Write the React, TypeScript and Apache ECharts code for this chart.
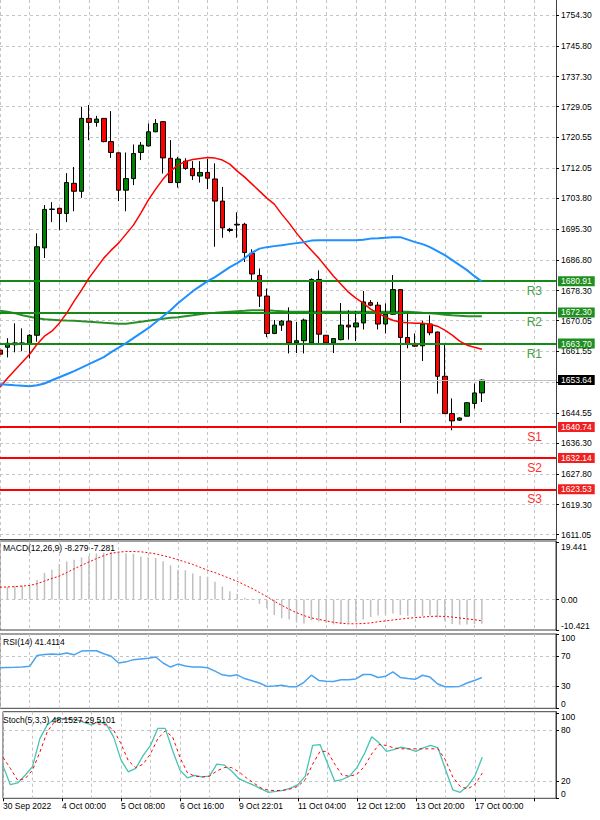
import React, { useEffect, useRef } from "react";
import * as echarts from "echarts";

const FONT = "'Liberation Sans', Arial, sans-serif";

const xTickLabels = [
  "30 Sep 2022", "4 Oct 00:00", "5 Oct 08:00", "6 Oct 16:00", "9 Oct 22:01",
  "11 Oct 04:00", "12 Oct 12:00", "13 Oct 20:00", "17 Oct 00:00",
];
const SLOT_COUNT = 76;

const priceTickValues = [
  1611.05, 1619.3, 1627.8, 1636.3, 1644.55, 1653.05, 1661.55, 1670.05, 1678.3,
  1686.8, 1695.3, 1703.8, 1712.05, 1720.55, 1729.05, 1737.3, 1745.8, 1754.3,
];
const priceLabelValues = [
  1611.05, 1619.3, 1627.8, 1636.3, 1644.55, 1661.55, 1670.05, 1678.3,
  1686.8, 1695.3, 1703.8, 1712.05, 1720.55, 1729.05, 1737.3, 1745.8, 1754.3,
];

// [open, close, low, high]
const candles = [
  [1661.9, 1660.8, 1659.9, 1662.7],
  [1662.7, 1663.8, 1659.9, 1665.2],
  [1663.4, 1663.9, 1661.3, 1669.3],
  [1663.9, 1663.6, 1661.6, 1667.9],
  [1663.7, 1666.0, 1659.6, 1666.3],
  [1666.0, 1690.4, 1664.2, 1694.1],
  [1690.1, 1700.7, 1687.3, 1701.9],
  [1700.7, 1700.8, 1697.2, 1702.7],
  [1701.0, 1699.6, 1695.0, 1701.2],
  [1699.6, 1708.1, 1697.2, 1710.7],
  [1707.9, 1705.7, 1700.2, 1712.4],
  [1705.7, 1725.8, 1703.9, 1729.0],
  [1725.8, 1724.7, 1719.8, 1729.5],
  [1724.7, 1725.6, 1723.5, 1726.5],
  [1725.8, 1719.4, 1719.2, 1725.9],
  [1719.4, 1716.4, 1714.9, 1727.8],
  [1716.3, 1706.0, 1703.0, 1716.4],
  [1706.0, 1709.2, 1700.2, 1716.4],
  [1709.2, 1716.1, 1707.4, 1718.6],
  [1716.4, 1718.4, 1714.3, 1719.3],
  [1718.2, 1722.1, 1718.1, 1724.4],
  [1722.1, 1724.4, 1722.0, 1725.6],
  [1724.9, 1714.9, 1710.6, 1725.0],
  [1714.8, 1708.1, 1708.0, 1719.8],
  [1708.1, 1714.6, 1706.7, 1715.2],
  [1714.0, 1712.0, 1711.6, 1714.8],
  [1712.0, 1710.0, 1708.8, 1714.0],
  [1709.9, 1710.9, 1708.1, 1714.0],
  [1710.9, 1709.3, 1706.3, 1714.6],
  [1709.1, 1703.0, 1690.4, 1713.4],
  [1703.0, 1695.6, 1692.9, 1706.9],
  [1695.2, 1694.9, 1694.4, 1695.6],
  [1696.4, 1696.6, 1692.9, 1699.9],
  [1696.6, 1688.8, 1686.2, 1697.0],
  [1688.6, 1682.9, 1681.2, 1689.7],
  [1682.5, 1676.8, 1673.8, 1684.4],
  [1676.8, 1666.5, 1665.5, 1678.9],
  [1666.5, 1668.8, 1666.3, 1670.2],
  [1668.8, 1669.9, 1667.2, 1670.2],
  [1669.9, 1663.9, 1661.0, 1673.7],
  [1663.9, 1664.5, 1661.1, 1669.7],
  [1664.5, 1670.2, 1661.0, 1670.6],
  [1663.9, 1681.4, 1663.3, 1681.7],
  [1681.4, 1666.3, 1663.5, 1683.9],
  [1666.0, 1663.9, 1663.8, 1666.1],
  [1663.9, 1665.1, 1661.1, 1665.2],
  [1664.8, 1668.8, 1664.6, 1674.9],
  [1668.8, 1668.3, 1664.8, 1672.9],
  [1668.3, 1669.4, 1664.4, 1672.7],
  [1669.4, 1675.2, 1667.6, 1678.2],
  [1675.0, 1674.3, 1674.0, 1675.7],
  [1674.3, 1669.1, 1667.6, 1675.2],
  [1669.1, 1671.8, 1666.5, 1674.8],
  [1671.8, 1678.6, 1671.7, 1682.6],
  [1678.6, 1665.4, 1641.8, 1678.7],
  [1665.4, 1663.7, 1662.4, 1672.0],
  [1663.7, 1663.0, 1662.8, 1666.5],
  [1663.1, 1669.1, 1658.9, 1670.0],
  [1669.1, 1666.7, 1666.0, 1671.5],
  [1666.9, 1654.7, 1649.9, 1667.0],
  [1654.7, 1644.4, 1644.3, 1663.7],
  [1644.4, 1642.4, 1639.8, 1648.6],
  [1642.6, 1643.2, 1642.4, 1643.4],
  [1643.7, 1647.4, 1643.6, 1647.5],
  [1647.2, 1650.1, 1645.8, 1652.7],
  [1650.1, 1653.64, 1647.6, 1653.8],
];

const maRed = [
  1651.68, 1654.16, 1656.37, 1658.58, 1660.78, 1663.54, 1665.75, 1667.13, 1669.34, 1672.1,
  1675.41, 1678.44, 1681.75, 1684.51, 1687.27, 1689.47, 1691.41, 1693.89, 1696.37, 1699.68,
  1703.27, 1706.3, 1709.06, 1711.27, 1712.92, 1713.89, 1714.44, 1714.77, 1714.99, 1714.85,
  1714.3, 1713.2, 1711.27, 1709.61, 1707.68, 1705.75, 1703.82, 1702.16, 1699.41, 1696.92,
  1694.16, 1691.68, 1689.47, 1687.27, 1684.78, 1682.3, 1680.1, 1677.89, 1676.23, 1674.85,
  1673.2, 1672.1, 1670.99, 1670.16, 1669.61, 1669.47, 1669.34, 1669.34, 1669.06, 1668.51,
  1667.41, 1666.03, 1664.37, 1663.27, 1662.72, 1662.16,
];
const maBlue = [
  1652.51, 1652.37, 1652.23, 1652.1, 1651.96, 1652.23, 1652.7, 1653.61, 1654.44, 1655.27,
  1656.1, 1657.06, 1658.03, 1658.99, 1659.96, 1661.34, 1662.58, 1663.82, 1665.2, 1666.58,
  1667.96, 1669.61, 1671.27, 1672.92, 1674.85, 1676.51, 1678.16, 1679.54, 1680.92, 1682.03,
  1683.41, 1684.78, 1685.89, 1687.27, 1688.79, 1689.89, 1690.3, 1690.58, 1690.85, 1691.13,
  1691.41, 1691.68, 1692.1, 1692.23, 1692.23, 1692.23, 1692.23, 1692.23, 1692.23, 1692.37,
  1692.65, 1692.78, 1692.92, 1693.06, 1693.06, 1692.37, 1691.68, 1691.13, 1690.3, 1689.2,
  1688.1, 1686.72, 1685.34, 1683.96, 1682.3, 1680.78,
];
const maGreen = [
  1672.78, 1672.51, 1672.1, 1671.54, 1671.13, 1670.72, 1670.44, 1670.3, 1670.16, 1670.08,
  1670.03, 1669.89, 1669.75, 1669.61, 1669.47, 1669.34, 1669.2, 1669.2, 1669.47, 1669.75,
  1670.03, 1670.3, 1670.58, 1670.85, 1670.99, 1671.27, 1671.54, 1671.82, 1672.1, 1672.23,
  1672.37, 1672.51, 1672.65, 1672.78, 1672.92, 1672.92, 1672.92, 1672.78, 1672.65, 1672.51,
  1672.51, 1672.51, 1672.51, 1672.51, 1672.51, 1672.51, 1672.51, 1672.51, 1672.51, 1672.51,
  1672.51, 1672.51, 1672.51, 1672.51, 1672.51, 1672.51, 1672.37, 1672.23, 1672.1, 1671.96,
  1671.68, 1671.54, 1671.41, 1671.27, 1671.27, 1671.27,
];

const levelNames = ["R3", "R2", "R1", "S1", "S2", "S3"];
const levelValues = [1680.91, 1672.3, 1663.7, 1640.74, 1632.14, 1623.53];
const currentPrice = 1653.64;

const macdHist = [
  4.3, 4.4, 4.7, 4.8, 5.0, 6.7, 9.1, 10.2, 12.2, 13.0,
  13.6, 14.4, 15.0, 15.8, 16.0, 16.2, 16.3, 15.8, 15.6, 14.7,
  14.4, 14.2, 13.1, 11.7, 10.2, 10.0, 8.9, 8.0, 7.8, 6.1,
  4.4, 2.8, 2.0, 0.6, 0.3, -1.5, -3.0, -5.3, -6.4, -6.8,
  -7.9, -8.2, -7.1, -7.5, -8.0, -8.5, -8.3, -8.0, -7.6, -6.8,
  -6.0, -5.5, -5.2, -4.8, -5.3, -5.6, -5.8, -5.6, -5.5, -6.2,
  -7.3, -8.4, -8.6, -8.5, -8.4, -8.279,
];
const macdSignal = [
  4.2, 4.3, 4.4, 4.6, 4.8, 5.4, 6.3, 7.2, 8.0, 9.2,
  10.5, 11.7, 12.8, 14.0, 15.0, 15.8, 16.2, 16.4, 16.4, 16.3,
  16.0, 15.6, 15.0, 14.4, 13.6, 12.8, 12.0, 11.0, 10.0, 9.2,
  8.2, 7.2, 6.2, 5.0, 3.8, 2.4, 1.0, -0.6, -2.0, -3.3,
  -4.5, -5.5, -6.3, -6.8, -7.3, -7.8, -8.1, -8.3, -8.3, -8.2,
  -8.0, -7.6, -7.3, -7.0, -6.7, -6.4, -6.2, -6.0, -5.8, -5.7,
  -5.8, -6.0, -6.3, -6.6, -6.9, -7.281,
];
const macdTop = 19.441;
const macdBottom = -10.421;

const rsi = [
  54.5, 55, 55.2, 55.5, 56.5, 71, 72.5, 73, 72.5, 74.5,
  72, 77, 77.5, 77.5, 73.5, 70, 61, 62.5, 65.5, 66.5,
  67.5, 69, 61, 55.5, 59.5, 57, 55.5, 55.5, 54.5, 50,
  45, 43.5, 45, 40, 37, 34, 29.5, 30, 31, 29,
  29, 35, 44.5, 37.5, 36.5, 36, 38.5, 38.5, 39.5, 45.5,
  45.5, 41.5, 43, 49, 41.5, 40, 39, 44.5, 42, 33,
  29, 29, 29.5, 34, 37.5, 41.4114,
];
const stochMain = [
  38, 16, 18, 27, 37, 70, 86, 93, 93.5, 93,
  92, 89, 86, 90, 87, 72, 45, 31, 35, 50,
  62, 82, 82, 56, 33, 24, 27, 25, 26, 40,
  39, 32, 23, 19, 15.5, 11, 7, 8, 9.4, 12,
  16, 26, 62, 63, 41, 20, 22, 26, 36, 52,
  72, 65, 55, 57, 60, 58, 55, 59, 62, 59,
  34, 10, 7, 14, 26, 48.1527,
];
const stochSignal = [
  48, 35, 21, 23, 33, 54, 78, 90, 93, 93,
  92, 90, 88, 87, 86, 80, 64, 44, 36, 40,
  52, 70, 79, 72, 48, 30, 26, 25, 26, 32,
  36, 36, 31, 24, 18, 12, 9.5, 9, 9.4, 11,
  14, 22, 40, 55, 55, 40, 27, 26, 28, 37,
  52, 63, 62, 59, 58, 58, 58, 58, 58, 58,
  45, 25, 14, 11, 16, 29.5101,
];

const GRID_DASH = { type: [3, 3] as number[], color: "#c4c4c4", width: 1 };
const GREEN_LINE = "#168a16";
const GREEN_TEXT = "#48a048";
const GREEN_TAG = "#1f8f1f";
const RED_LINE = "#ff0000";
const RED_TEXT = "#ff3030";
const RED_TAG = "#f02020";

function buildOption() {
  const slots = Array.from({ length: SLOT_COUNT }, (_, i) => String(i));
  const labelStyle = { fontFamily: FONT, fontSize: 8.5, color: "#000" };

  const xBase = (gridIndex: number, showLabels: boolean) => ({
    type: "category",
    gridIndex,
    data: slots,
    boundaryGap: false,
    axisLine: { show: gridIndex === 0, lineStyle: { color: "#404040" } },
    axisTick: {
      show: showLabels,
      interval: 7,
      length: 3,
      lineStyle: { color: "#000" },
    },
    axisLabel: {
      show: showLabels,
      interval: 7,
      align: "left",
      margin: 3,
      ...labelStyle,
      formatter: (_v: string, idx: number) => xTickLabels[idx / 8] ?? "",
    },
    splitLine: { show: true, interval: 3, lineStyle: GRID_DASH },
  });

  const labelAxis = (
    gridIndex: number,
    min: number,
    max: number,
    values: number[],
    valign: string,
    fmt: (v: number) => string,
    main: boolean
  ) => ({
    type: "value",
    gridIndex,
    position: "right",
    min,
    max,
    axisLine: { show: main, lineStyle: { color: "#404040" } },
    axisTick: {
      show: true,
      length: 3,
      customValues: values,
      lineStyle: { color: "#000" },
    },
    axisLabel: {
      show: true,
      customValues: values,
      margin: 5,
      verticalAlign: valign,
      lineHeight: 8,
      ...labelStyle,
      formatter: (v: number) => fmt(v),
    },
    splitLine: { show: main, lineStyle: GRID_DASH },
  });

  const priceMin = 1609.75;
  const priceMax = 1758.44;

  const tagLabel = (text: string, bg: string) => ({
    show: true,
    position: "end",
    distance: 2,
    formatter: text,
    backgroundColor: bg,
    color: "#fff",
    padding: [1, 3, 1, 3],
    lineHeight: 8,
    fontFamily: FONT,
    fontSize: 8.5,
  });

  const levelMarks: any[] = [
    {
      yAxis: currentPrice,
      lineStyle: { color: "#c0c0c0", width: 1, type: "solid" },
      label: tagLabel(currentPrice.toFixed(2), "#000"),
    },
  ];
  levelNames.forEach((name, k) => {
    const v = levelValues[k];
    const isR = name[0] === "R";
    levelMarks.push({
      yAxis: v,
      lineStyle: { color: isR ? GREEN_LINE : RED_LINE, width: 2, type: "solid" },
      label: tagLabel(v.toFixed(2), isR ? GREEN_TAG : RED_TAG),
    });
    levelMarks.push({
      yAxis: v,
      lineStyle: { color: "rgba(0,0,0,0)", width: 0 },
      label: {
        show: true,
        position: "insideEndBottom",
        distance: [14, 4],
        formatter: name,
        color: isR ? GREEN_TEXT : RED_TEXT,
        fontFamily: FONT,
        fontSize: 12,
      },
    });
  });

  const titleStyle = { fontFamily: FONT, fontSize: 8.5, fontWeight: "normal", color: "#000" };

  const yAxes: any[] = [
    labelAxis(0, priceMin, priceMax, priceTickValues, "middle", (v) => v.toFixed(2), true),
    // MACD
    labelAxis(1, macdBottom, 20, [0], "middle", (v) => v.toFixed(2), true),
    labelAxis(1, macdBottom, 20, [macdTop], "top", (v) => String(v), false),
    labelAxis(1, macdBottom, 20, [macdBottom], "bottom", (v) => String(v), false),
    // RSI
    labelAxis(2, 0, 100, [30, 70], "middle", (v) => String(v), true),
    labelAxis(2, 0, 100, [100], "top", (v) => String(v), false),
    labelAxis(2, 0, 100, [0], "bottom", (v) => String(v), false),
    // Stoch
    labelAxis(3, 0, 101.5, [20, 80], "middle", (v) => String(v), true),
    labelAxis(3, 0, 101.5, [100], "top", (v) => String(v), false),
    labelAxis(3, 0, 101.5, [0], "bottom", (v) => String(v), false),
  ];
  yAxes[0] = { ...yAxes[0], axisLabel: { ...yAxes[0].axisLabel, customValues: priceLabelValues } };

  return {
    animation: false,
    backgroundColor: "#fff",
    title: [
      {
        text: `MACD(12,26,9) ${macdHist[macdHist.length - 1]} ${macdSignal[macdSignal.length - 1]}`,
        left: 3,
        top: 543,
        padding: 0,
        textStyle: titleStyle,
      },
      {
        text: `RSI(14) ${rsi[rsi.length - 1]}`,
        left: 3,
        top: 637,
        padding: 0,
        textStyle: titleStyle,
      },
      {
        text: `Stoch(5,3,3) ${stochMain[stochMain.length - 1]} ${stochSignal[stochSignal.length - 1]}`,
        left: 3,
        top: 715,
        padding: 0,
        textStyle: titleStyle,
      },
    ],
    grid: [
      { left: 0, right: 44, top: 0, height: 539.3, show: false },
      { left: 0, right: 44, top: 541, height: 89, show: true, borderColor: "#404040", borderWidth: 1, backgroundColor: "transparent" },
      { left: 0, right: 44, top: 634, height: 74.3, show: true, borderColor: "#404040", borderWidth: 1, backgroundColor: "transparent" },
      { left: 0, right: 44, top: 711.7, height: 86.6, show: true, borderColor: "#404040", borderWidth: 1, backgroundColor: "transparent" },
    ],
    xAxis: [xBase(0, false), xBase(1, false), xBase(2, false), xBase(3, true)],
    yAxis: yAxes,
    series: [
      {
        type: "line",
        name: "MA green",
        xAxisIndex: 0,
        yAxisIndex: 0,
        data: maGreen,
        symbol: "none",
        lineStyle: { color: "#2a8f2a", width: 2 },
        z: 3,
      },
      {
        type: "candlestick",
        xAxisIndex: 0,
        yAxisIndex: 0,
        data: candles,
        barWidth: 5,
        itemStyle: {
          color: "#008000",
          color0: "#ff0000",
          borderColor: "#000",
          borderColor0: "#000",
          borderWidth: 1,
        },
        z: 4,
        markLine: {
          silent: true,
          symbol: ["none", "none"],
          animation: false,
          data: levelMarks,
        },
      },
      {
        type: "line",
        name: "MA red",
        xAxisIndex: 0,
        yAxisIndex: 0,
        data: maRed,
        symbol: "none",
        lineStyle: { color: "#ff0000", width: 1.5 },
        z: 5,
      },
      {
        type: "line",
        name: "MA blue",
        xAxisIndex: 0,
        yAxisIndex: 0,
        data: maBlue,
        symbol: "none",
        lineStyle: { color: "#1e90ff", width: 2 },
        z: 5,
      },
      {
        type: "bar",
        xAxisIndex: 1,
        yAxisIndex: 1,
        data: macdHist,
        barWidth: 1.5,
        itemStyle: { color: "#c0c0c0" },
      },
      {
        type: "line",
        xAxisIndex: 1,
        yAxisIndex: 1,
        data: macdSignal,
        symbol: "none",
        lineStyle: { color: "#ff0000", width: 1, type: [2, 2] },
      },
      {
        type: "line",
        xAxisIndex: 2,
        yAxisIndex: 4,
        data: rsi,
        symbol: "none",
        lineStyle: { color: "#4aa3f0", width: 1.5 },
      },
      {
        type: "line",
        xAxisIndex: 3,
        yAxisIndex: 7,
        data: stochMain,
        symbol: "none",
        lineStyle: { color: "#46c4b4", width: 1.3 },
      },
      {
        type: "line",
        xAxisIndex: 3,
        yAxisIndex: 7,
        data: stochSignal,
        symbol: "none",
        lineStyle: { color: "#ff0000", width: 1, type: [3, 3] },
      },
    ],
  };
}

export default function App() {
  const ref = useRef<HTMLDivElement>(null);
  useEffect(() => {
    if (!ref.current) return;
    const chart = echarts.init(ref.current, null, { renderer: "svg" });
    chart.setOption(buildOption() as any);
    return () => chart.dispose();
  }, []);
  return (
    <div
      ref={ref}
      style={{ position: "fixed", left: 0, top: 0, width: 600, height: 820, background: "#fff" }}
    />
  );
}
